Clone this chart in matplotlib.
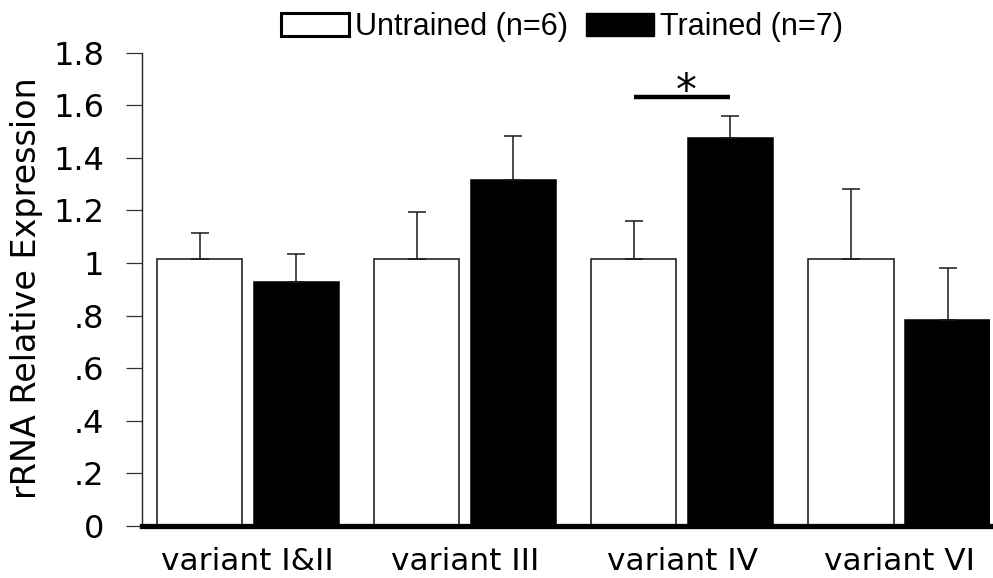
import matplotlib
matplotlib.use("Agg")
import matplotlib.pyplot as plt
import numpy as np
from matplotlib.patches import Patch

categories = ["variant I&II", "variant III", "variant IV", "variant VI"]
untrained = [1.015, 1.015, 1.015, 1.015]
untrained_err = [0.10, 0.18, 0.145, 0.267]
trained = [0.927, 1.317, 1.474, 0.783]
trained_err = [0.109, 0.166, 0.087, 0.197]
yticks = [0, 0.2, 0.4, 0.6, 0.8, 1.0, 1.2, 1.4, 1.6, 1.8]
ytick_labels = ["0", ".2", ".4", ".6", ".8", "1", "1.2", "1.4", "1.6", "1.8"]
legend_labels = ["Untrained (n=6)", "Trained (n=7)"]
sig_height = 1.631

W, H = 993, 578
fig = plt.figure(figsize=(W / 100, H / 100), dpi=100)
ax_l, ax_r, ax_b, ax_t = 142.3, 990, 526, 52.7
ax = fig.add_axes([ax_l / W, 1 - ax_b / H, (ax_r - ax_l) / W, (ax_b - ax_t) / H])

x = np.arange(len(categories))
bw = 0.392
off = 0.2223
ekw = dict(elinewidth=1.1, capthick=1.1, ecolor="#1a1a1a")
ax.bar(x - off, untrained, bw, color="white", edgecolor="#111111", linewidth=1.1,
       yerr=[np.zeros(4), untrained_err], capsize=6.3, error_kw=ekw, zorder=2)
ax.bar(x + off, trained, bw, color="black", edgecolor="black", linewidth=1.1,
       yerr=[np.zeros(4), trained_err], capsize=6.3, error_kw=ekw, zorder=2)

ax.set_xlim(-0.486, 3.418)
ax.set_ylim(0, 1.8)
ax.axhline(0, color="black", linewidth=3.8, zorder=3, clip_on=False)

for s in ["top", "right", "bottom"]:
    ax.spines[s].set_visible(False)
ax.spines["left"].set_linewidth(1.0)
ax.spines["left"].set_color("#222222")

ax.set_yticks(yticks)
ax.set_yticklabels(ytick_labels, fontsize=23, family="DejaVu Sans")
ax.tick_params(axis="y", length=11.5, width=0.9, color="#333333", pad=16)
ax.set_xticks(x)
ax.set_xticklabels(categories, fontsize=22.5, family="DejaVu Sans")
ax.tick_params(axis="x", length=0, pad=15)

ax.set_ylabel("rRNA Relative Expression", fontsize=24, family="DejaVu Sans")
ax.yaxis.set_label_coords((43 - ax_l) / (ax_r - ax_l), (ax_b - 288.5) / (ax_b - ax_t))

# significance marker
ax.plot([2 - off, 2 + off], [sig_height, sig_height], color="black", linewidth=3.2,
        solid_capstyle="butt", clip_on=False)
ax.text(2.02, 1.605, "*", ha="center", va="baseline", fontsize=30, family="DejaVu Sans")

handles = [Patch(facecolor="white", edgecolor="black", linewidth=2.2),
           Patch(facecolor="black", edgecolor="black", linewidth=1)]
fig.legend(handles, legend_labels, loc="center left",
           bbox_to_anchor=(281 / W, 1 - 27 / H), ncol=2, frameon=False,
           prop={"family": "Liberation Sans", "size": 22},
           handlelength=2.22, handleheight=0.82, handletextpad=0.2,
           columnspacing=0.6, borderpad=0, borderaxespad=0)

fig.savefig("out.png", dpi=100)
